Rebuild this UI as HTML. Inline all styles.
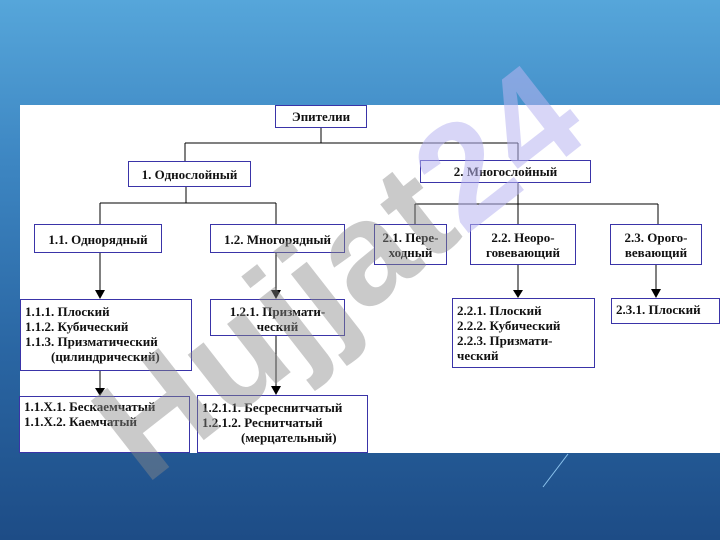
<!DOCTYPE html>
<html><head><meta charset="utf-8"><style>
body{margin:0;width:720px;height:540px;overflow:hidden;position:relative;
background:linear-gradient(180deg,#56a6da 0%,#3d86c2 30%,#2a66a3 65%,#1d4c86 100%);
font-family:"Liberation Serif",serif;}
#w{position:absolute;left:20px;top:105px;width:700px;height:348px;background:#fff;}
.b{position:absolute;border:1px solid #3a34a8;background:#fff;font-weight:bold;font-size:13px;line-height:15px;color:#111;box-sizing:border-box;padding:2px 4px;white-space:nowrap}
.c{text-align:center}
svg{position:absolute;left:0;top:0}
</style></head><body>
<div id="w"></div>
<svg width="720" height="540">
<g stroke="#000" stroke-width="1" fill="none">
<path d="M321 128V143M185 143H518M185 143V161M518 143V160"/>
<path d="M186 187V203M100 203H276M100 203V224M276 203V224"/>
<path d="M518 183V204M415 204H658M415 204V224M518 204V224M658 204V224"/>
<path d="M100 253V292M276 253V292M518 265V292M656 265V290M100 371V390M276 336V388"/>
</g>
<g fill="#000">
<path d="M95 290L105 290L100 299Z"/><path d="M271 290L281 290L276 299Z"/>
<path d="M513 290L523 290L518 298Z"/><path d="M651 289L661 289L656 298Z"/>
<path d="M95 388L105 388L100 396Z"/><path d="M271 386L281 386L276 395Z"/>
</g>
<line x1="543" y1="487" x2="568" y2="454" stroke="#8cc4ee" stroke-width="1"/>
</svg>
<div class="b c" style="left:275px;top:105px;width:92px;height:23px;padding-top:3px">Эпителии</div>
<div class="b c" style="left:128px;top:161px;width:123px;height:26px;padding-top:5px">1. Однослойный</div>
<div class="b c" style="left:420px;top:160px;width:171px;height:23px;padding-top:3px">2. Многослойный</div>
<div class="b c" style="left:34px;top:224px;width:128px;height:29px;padding-top:7px">1.1. Однорядный</div>
<div class="b c" style="left:210px;top:224px;width:135px;height:29px;padding-top:7px">1.2. Многорядный</div>
<div class="b c" style="left:374px;top:224px;width:73px;height:41px;padding-top:5px">2.1. Пере-<br>ходный</div>
<div class="b c" style="left:470px;top:224px;width:106px;height:41px;padding-top:5px">2.2. Неоро-<br>говевающий</div>
<div class="b c" style="left:610px;top:224px;width:92px;height:41px;padding-top:5px">2.3. Орого-<br>вевающий</div>
<div class="b" style="left:20px;top:299px;width:172px;height:72px;padding-top:4px">1.1.1. Плоский<br>1.1.2. Кубический<br>1.1.3. Призматический<br>&nbsp;&nbsp;&nbsp;&nbsp;&nbsp;&nbsp;&nbsp;&nbsp;(цилиндрический)</div>
<div class="b c" style="left:210px;top:299px;width:135px;height:37px;padding-top:4px">1.2.1. Призмати-<br>ческий</div>
<div class="b" style="left:452px;top:298px;width:143px;height:70px;padding-top:4px">2.2.1. Плоский<br>2.2.2. Кубический<br>2.2.3. Призмати-<br>ческий</div>
<div class="b" style="left:611px;top:298px;width:109px;height:26px;padding-top:3px">2.3.1. Плоский</div>
<div class="b" style="left:19px;top:396px;width:171px;height:57px;padding-top:2px">1.1.Х.1. Бескаемчатый<br>1.1.Х.2. Каемчатый</div>
<div class="b" style="left:197px;top:395px;width:171px;height:58px;padding-top:4px">1.2.1.1. Бесреснитчатый<br>1.2.1.2. Реснитчатый<br>&nbsp;&nbsp;&nbsp;&nbsp;&nbsp;&nbsp;&nbsp;&nbsp;&nbsp;&nbsp;&nbsp;&nbsp;(мерцательный)</div>
<svg width="720" height="540" style="pointer-events:none">
<g transform="translate(145,486) rotate(-38)">
<text x="0" y="0" font-family="Liberation Sans,sans-serif" font-weight="bold" font-size="146" fill="#8a8a8a" fill-opacity="0.45">Hujjat<tspan fill="#b8b4f0" fill-opacity="0.55">24</tspan></text>
</g>
</svg>
</body></html>
